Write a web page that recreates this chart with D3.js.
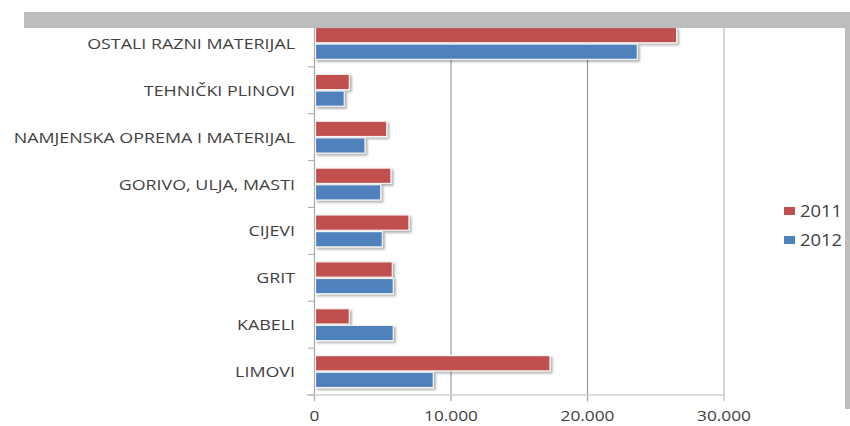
<!DOCTYPE html>
<html><head><meta charset="utf-8">
<script src="https://cdn.jsdelivr.net/npm/d3@7"></script>
<style>body{margin:0;background:#fff}svg{display:block}</style>
</head><body><svg id="c" width="850" height="426"></svg>
<script>
const categories = ["OSTALI RAZNI MATERIJAL","TEHNIČKI PLINOVI","NAMJENSKA OPREMA I MATERIJAL","GORIVO, ULJA, MASTI","CIJEVI","GRIT","KABELI","LIMOVI"];
const seriesNames = ["2011","2012"];
const values2011 = [26530, 2550, 5290, 5600, 6920, 5700, 2550, 17250];
const values2012 = [23650, 2180, 3700, 4850, 4970, 5770, 5770, 8700];
const xTicks = [0, 10000, 20000, 30000];
const colors = ["#C0504D", "#4F81BD"];

const svg = d3.select("#c");
const font = "'Open Sans', 'Liberation Sans', sans-serif";
const x = d3.scaleLinear().domain([0, 30000]).range([314.5, 724]);
const y = d3.scaleBand().domain(categories).range([20, 395]);
const inner = d3.scaleBand().domain(seriesNames).range([0, y.bandwidth()]).paddingInner(0.08).paddingOuter(0.45);

// horizontally stretched text helper
function stretch(sel, k) {
  sel.each(function() {
    const w = this.getComputedTextLength();
    d3.select(this).attr("textLength", w * k).attr("lengthAdjust", "spacingAndGlyphs");
  });
}

const defs = svg.append("defs");
const f = defs.append("filter").attr("id","sh").attr("x","-5%").attr("y","-30%").attr("width","115%").attr("height","180%");
f.append("feDropShadow").attr("dx",2).attr("dy",2).attr("stdDeviation",1.2).attr("flood-color","#000").attr("flood-opacity",0.3);

// gridlines
svg.append("g").selectAll("line").data(xTicks.slice(1)).join("line")
  .attr("x1", d => x(d)).attr("x2", d => x(d)).attr("y1", 20).attr("y2", 401)
  .attr("stroke", d => d === 30000 ? "#c8c8c8" : "#9a9a9a").attr("stroke-width", d => d === 30000 ? 1.5 : 1.2);

// axes lines
svg.append("line").attr("x1", x(0)).attr("x2", x(0)).attr("y1", 20).attr("y2", 401).attr("stroke", "#a8a8a8").attr("stroke-width", 1.2);
svg.append("line").attr("x1", 307).attr("x2", x(30000)).attr("y1", 395).attr("y2", 395).attr("stroke", "#cfcfcf").attr("stroke-width", 1.5);
// category ticks
svg.append("g").selectAll("line").data(d3.range(categories.length + 1)).join("line")
  .attr("x1", 308).attr("x2", x(0)).attr("y1", i => 20 + i * y.step()).attr("y2", i => 20 + i * y.step())
  .attr("stroke", "#a8a8a8").attr("stroke-width", 1);

// bars
const data = [];
categories.forEach((c, i) => {
  data.push({c, s: "2011", v: values2011[i], col: colors[0]});
  data.push({c, s: "2012", v: values2012[i], col: colors[1]});
});
svg.append("g").selectAll("rect").data(data).join("rect")
  .attr("x", x(0) + 1).attr("y", d => y(d.c) + inner(d.s))
  .attr("width", d => x(d.v) - x(0) - 1).attr("height", inner.bandwidth())
  .attr("fill", d => d.col).attr("stroke", "#f4f4f4").attr("stroke-width", 1.2)
  .attr("filter", "url(#sh)");

// category labels
const catText = svg.append("g").selectAll("text").data(categories).join("text")
  .attr("x", 295).attr("y", d => y(d) + y.bandwidth() / 2 + 5.5)
  .attr("text-anchor", "end").attr("font-family", font).attr("font-size", 15)
  .attr("fill", "#404040").text(d => d);
stretch(catText, 1.19);

// x tick labels
const tickText = svg.append("g").selectAll("text").data(xTicks).join("text")
  .attr("x", d => x(d)).attr("y", 421).attr("text-anchor", "middle")
  .attr("font-family", font).attr("font-size", 15).attr("fill", "#404040")
  .text(d => d3.format(",")(d).replace(/,/g, "."));
stretch(tickText, 1.15);

// legend
const lg = svg.append("g").selectAll("g").data(seriesNames).join("g")
  .attr("transform", (d, i) => `translate(784,${207 + i * 29})`);
lg.append("rect").attr("width", 11).attr("height", 8).attr("fill", (d, i) => colors[i]);
const lgText = lg.append("text").attr("x", 16).attr("y", 10).attr("font-family", font).attr("font-size", 16)
  .attr("fill", "#404040").text(d => d);
stretch(lgText, 1.15);

// gray frame pieces
svg.append("rect").attr("x", 24).attr("y", 12).attr("width", 826).attr("height", 16).attr("fill", "#bdbdbd");
svg.append("rect").attr("x", 845).attr("y", 12).attr("width", 5).attr("height", 397).attr("fill", "#bdbdbd");
</script></body></html>
